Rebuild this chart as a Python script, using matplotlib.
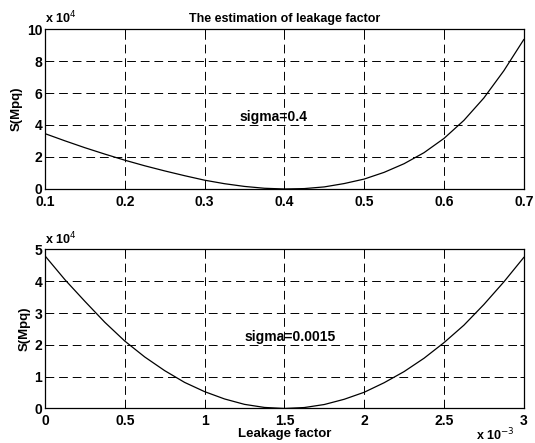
import numpy as np
import matplotlib.pyplot as plt
from matplotlib.ticker import FuncFormatter

plt.rcParams['font.family'] = ['Liberation Sans', 'DejaVu Sans']

# sigma = 0.4
leak1 = [0.1, 0.125, 0.15, 0.175, 0.2, 0.225, 0.25, 0.275, 0.3, 0.325, 0.35, 0.375, 0.4,
         0.425, 0.45, 0.475, 0.5, 0.525, 0.55, 0.575, 0.6, 0.625, 0.65, 0.675, 0.7]
s1 = [34600, 30100, 25800, 21800, 18000, 14500, 11300, 8300, 5500, 3300, 1600, 450, 0,
      250, 1300, 3400, 6200, 10400, 15800, 22700, 31600, 42900, 56900, 73900, 93400]

# sigma = 0.0015 (leakage factor in units of 1e-3)
leak2 = [0, 0.125, 0.25, 0.375, 0.5, 0.625, 0.75, 0.875, 1.0, 1.125, 1.25, 1.375, 1.5,
         1.625, 1.75, 1.875, 2.0, 2.125, 2.25, 2.375, 2.5, 2.625, 2.75, 2.875, 3.0]
s2 = [48000, 40500, 33700, 27100, 21200, 16200, 11900, 8200, 5300, 3000, 1300, 330, 0,
      300, 1250, 2900, 5100, 8100, 11600, 15800, 20700, 26200, 32700, 39800, 47500]

xt1 = [0.1, 0.2, 0.3, 0.4, 0.5, 0.6, 0.7]
yt1 = [0, 20000, 40000, 60000, 80000, 100000]
xt2 = [0, 0.5, 1, 1.5, 2, 2.5, 3]
yt2 = [0, 10000, 20000, 30000, 40000, 50000]

fig = plt.figure(figsize=(5.35, 4.43), dpi=100)
ax1 = fig.add_axes([0.0841, 0.5734, 0.8949, 0.3611])
ax2 = fig.add_axes([0.0841, 0.0779, 0.8949, 0.3589])

def style(ax, xt, yt):
    ax.set_xticks(xt)
    ax.set_yticks(yt)
    ax.grid(True, color='black', linestyle=(0, (9, 5)), linewidth=0.7)
    ax.tick_params(direction='in', top=True, right=True, length=3, width=0.7,
                   labelsize=10)
    ax.tick_params(axis='x', pad=4)
    ax.tick_params(axis='y', pad=2)
    for lab in ax.get_xticklabels() + ax.get_yticklabels():
        lab.set_fontweight('bold')
    for sp in ax.spines.values():
        sp.set_linewidth(0.9)
    ax.xaxis.set_major_formatter(FuncFormatter(lambda v, p: '%g' % v))
    ax.yaxis.set_major_formatter(FuncFormatter(lambda v, p: '%g' % (v / 1e4)))
    ax.text(0.0, 1.015, r'x 10$^{4}$', transform=ax.transAxes, fontsize=9,
            fontweight='bold', ha='left', va='bottom')
    ax.set_ylabel('S(Mpq)', fontsize=9.5, fontweight='bold', labelpad=3)

ax1.plot(leak1, s1, color='black', linewidth=0.9)
ax1.set_xlim(0.1, 0.7)
ax1.set_ylim(0, 100000)
style(ax1, xt1, yt1)
ax1.set_title('The estimation of leakage factor', fontsize=9, fontweight='bold', pad=5)
ax1.text(0.344, 45000, 'sigma=0.4', fontsize=10, fontweight='bold', va='center')

ax2.plot(leak2, s2, color='black', linewidth=0.9)
ax2.set_xlim(0, 3)
ax2.set_ylim(0, 50000)
style(ax2, xt2, yt2)
ax2.set_xlabel('Leakage factor', fontsize=9.5, fontweight='bold', labelpad=0)
ax2.text(1.25, 22600, 'sigma=0.0015', fontsize=10, fontweight='bold', va='center')
fig.text(0.962, 0.0, r'x 10$^{-3}$', fontsize=9, fontweight='bold',
         ha='right', va='bottom')

fig.savefig('out.png', dpi=100)
